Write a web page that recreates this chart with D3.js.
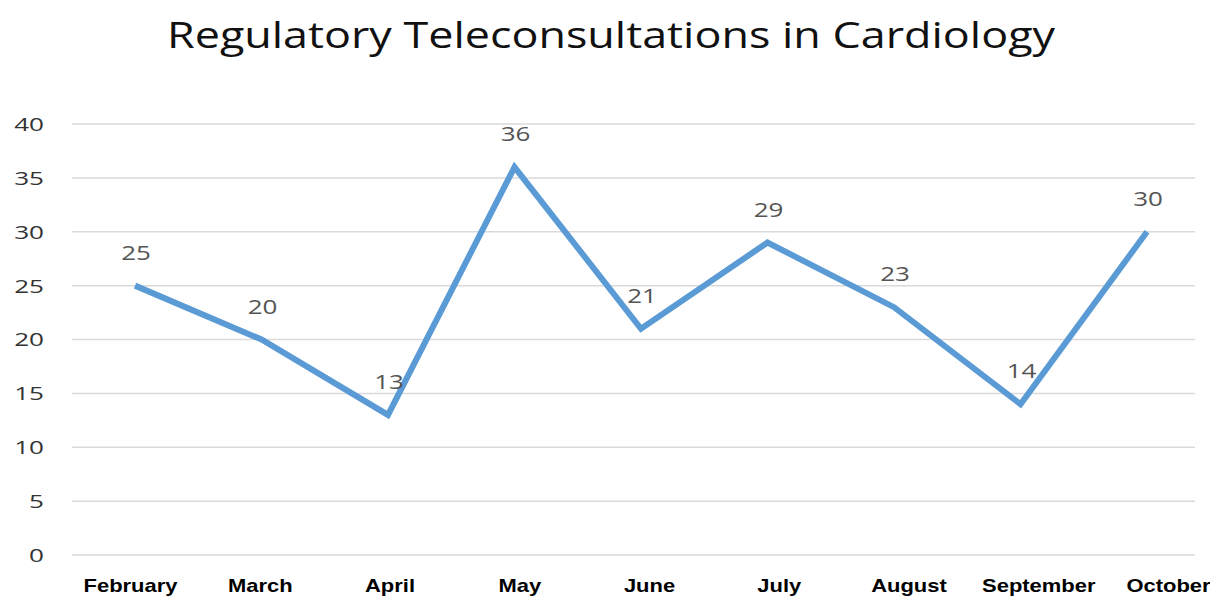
<!DOCTYPE html>
<html>
<head>
<meta charset="utf-8">
<script src="https://cdn.jsdelivr.net/npm/d3@7"></script>
<style>
  html, body { margin: 0; padding: 0; background: #fff; }
  svg { display: block; }
</style>
</head>
<body>
<svg id="chart" width="1210" height="597"></svg>
<script>
// Monthly regulatory teleconsultations in cardiology
const months = ["February", "March", "April", "May", "June", "July", "August", "September", "October"];
const consultations = [25, 20, 13, 36, 21, 29, 23, 14, 30];
const yTicks = [0, 5, 10, 15, 20, 25, 30, 35, 40];

const svg = d3.select("#chart");

const y = d3.scaleLinear().domain([0, 40]).range([555, 124]);
const x = d3.scalePoint().domain(months).range([135, 1147]);
// category labels sit on a slightly wider spread than the plotted points
const xLabel = d3.scalePoint().domain(months).range([130, 1168]);

// text in this chart is drawn horizontally widened
const wideTicks = 1.45, wideValues = 1.3, wideMonths = 1.22;

// title
svg.append("text")
  .attr("x", 611).attr("y", 48)
  .attr("text-anchor", "middle")
  .attr("font-family", "'Open Sans', sans-serif")
  .attr("font-size", 37)
  .attr("fill", "#111")
  .attr("textLength", 888)
  .attr("lengthAdjust", "spacingAndGlyphs")
  .text("Regulatory Teleconsultations in Cardiology");

// horizontal gridlines
svg.append("g").selectAll("line")
  .data(yTicks).join("line")
  .attr("x1", 72).attr("x2", 1195)
  .attr("y1", d => y(d)).attr("y2", d => y(d))
  .attr("stroke", "#dadada").attr("stroke-width", 1.5);

// y-axis tick labels
const yAxis = d3.axisLeft(y).tickValues(yTicks).tickSize(0).tickPadding(0);
const gy = svg.append("g").attr("transform", "translate(44,0)").call(yAxis);
gy.select(".domain").remove();
gy.selectAll("text")
  .attr("x", 0)
  .attr("transform", `scale(${wideTicks},1)`)
  .attr("font-family", "'Open Sans', sans-serif")
  .attr("font-size", 18)
  .attr("fill", "#333")
  .attr("dy", "0.36em");

// month labels
const xAxis = d3.axisBottom(xLabel).tickSize(0).tickPadding(0);
const gx = svg.append("g").attr("transform", "translate(0,592)").call(xAxis);
gx.select(".domain").remove();
gx.selectAll("text")
  .attr("y", 0)
  .attr("dy", 0)
  .attr("transform", `scale(${wideMonths},1)`)
  .attr("font-family", "'Liberation Sans', Arial, sans-serif")
  .attr("font-weight", "bold")
  .attr("font-size", 18)
  .attr("fill", "#000");

// series line
const line = d3.line()
  .x((d, i) => x(months[i]))
  .y(d => y(d));

svg.append("path")
  .datum(consultations)
  .attr("d", line)
  .attr("fill", "none")
  .attr("stroke", "#5b9bd5")
  .attr("stroke-width", 6)
  .attr("stroke-linejoin", "miter")
  .attr("stroke-linecap", "butt");

// value labels
svg.append("g").selectAll("g")
  .data(consultations).join("g")
  .attr("transform", (d, i) => `translate(${x(months[i]) + 1},${y(d) - 26})`)
  .append("text")
  .attr("transform", `scale(${wideValues},1)`)
  .attr("text-anchor", "middle")
  .attr("font-family", "'Open Sans', sans-serif")
  .attr("font-size", 20)
  .attr("fill", "#555")
  .text(d => d);
</script>
</body>
</html>
